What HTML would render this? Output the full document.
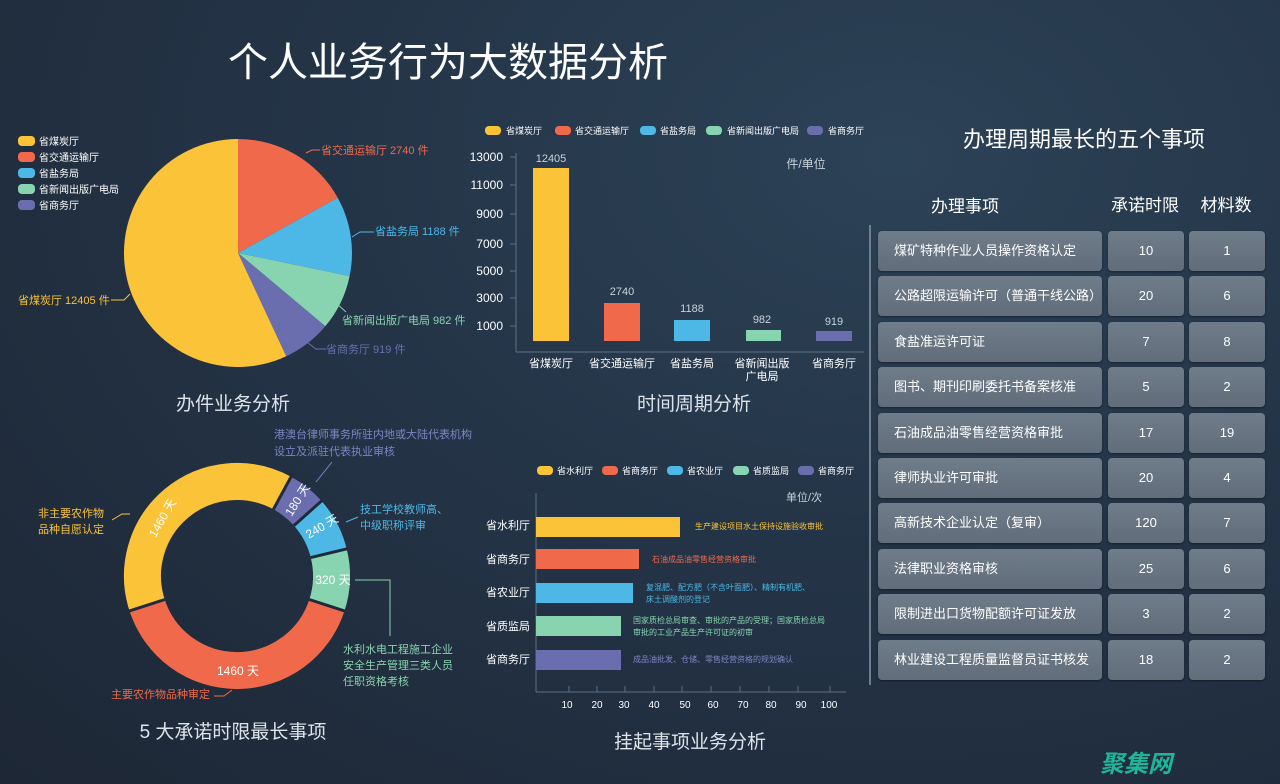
<!DOCTYPE html>
<html><head><meta charset="utf-8"><style>
body{margin:0;width:1280px;height:784px;overflow:hidden;background:radial-gradient(ellipse at 70% 20%,#2c4257 0%,#243447 45%,#1d2735 100%);font-family:"Liberation Sans","Noto Sans CJK SC",sans-serif;}
svg{position:absolute;left:0;top:0}
.c{position:absolute;background:linear-gradient(#6f7c89,#616d7a);border-radius:4px;color:#fff;font-size:13px;box-shadow:0 1px 2px #0006}
</style></head><body>
<svg width="1280" height="784" font-family="Liberation Sans, Noto Sans CJK SC, sans-serif">
<text x="448" y="76" fill="#fff" font-size="40" text-anchor="middle">个人业务行为大数据分析</text>
<g font-size="10" fill="#fff">
<rect x="18" y="136" width="17" height="10" rx="4" fill="#fbc337"/><text x="39" y="145">省煤炭厅</text>
<rect x="18" y="152" width="17" height="10" rx="4" fill="#f0694a"/><text x="39" y="161">省交通运输厅</text>
<rect x="18" y="168" width="17" height="10" rx="4" fill="#4db8e6"/><text x="39" y="177">省盐务局</text>
<rect x="18" y="184" width="17" height="10" rx="4" fill="#88d4b0"/><text x="39" y="193">省新闻出版广电局</text>
<rect x="18" y="200" width="17" height="10" rx="4" fill="#6b6eae"/><text x="39" y="209">省商务厅</text>
</g>
<path d="M238,253 L238,139 A114,114 0 0 1 337.7,197.7Z" fill="#f0694a"/>
<path d="M238,253 L337.7,197.7 A114,114 0 0 1 349.6,276.1Z" fill="#4db8e6"/>
<path d="M238,253 L349.6,276.1 A114,114 0 0 1 325.3,326.3Z" fill="#88d4b0"/>
<path d="M238,253 L325.3,326.3 A114,114 0 0 1 286.2,356.3Z" fill="#6b6eae"/>
<path d="M238,253 L286.2,356.3 A114,114 0 1 1 238,139Z" fill="#fbc337"/>
<g font-size="11" fill="none" stroke-width="1">
<path d="M306,153 L312,150 L320,150" stroke="#f0694a"/><text x="321" y="154" fill="#f0694a" stroke="none">省交通运输厅 2740 件</text>
<path d="M352,237 L360,232 L374,232" stroke="#4db8e6"/><text x="375" y="235" fill="#4db8e6" stroke="none">省盐务局 1188 件</text>
<path d="M336,303 L346,312" stroke="#88d4b0"/><text x="342" y="324" fill="#88d4b0" stroke="none">省新闻出版广电局 982 件</text>
<path d="M308,343 L316,349 L326,349" stroke="#6b6eae"/><text x="326" y="353" fill="#6b6eae" stroke="none">省商务厅 919 件</text>
<path d="M111,300 L124,300 L130,294" stroke="#fbc337"/><text x="18" y="304" fill="#fbc337" stroke="none">省煤炭厅 12405 件</text>
</g>
<text x="233" y="410" fill="#dde3ea" font-size="19" text-anchor="middle">办件业务分析</text>
<g font-size="9" fill="#fff">
<rect x="485" y="126" width="16" height="9" rx="4" fill="#fbc337"/><text x="506" y="134">省煤炭厅</text>
<rect x="555" y="126" width="16" height="9" rx="4" fill="#f0694a"/><text x="575" y="134">省交通运输厅</text>
<rect x="640" y="126" width="16" height="9" rx="4" fill="#4db8e6"/><text x="660" y="134">省盐务局</text>
<rect x="706" y="126" width="16" height="9" rx="4" fill="#88d4b0"/><text x="727" y="134">省新闻出版广电局</text>
<rect x="807" y="126" width="16" height="9" rx="4" fill="#6b6eae"/><text x="828" y="134">省商务厅</text>
</g>
<g font-size="12" fill="#fff" text-anchor="end">
<text x="503" y="161">13000</text><text x="503" y="189">11000</text><text x="503" y="218">9000</text><text x="503" y="248">7000</text><text x="503" y="275">5000</text><text x="503" y="302">3000</text><text x="503" y="330">1000</text>
</g>
<g stroke="#5d7083"><line x1="516" y1="153" x2="516" y2="352"/><line x1="516" y1="352" x2="864" y2="352"/>
<line x1="510" y1="157" x2="516" y2="157"/><line x1="510" y1="185" x2="516" y2="185"/><line x1="510" y1="214" x2="516" y2="214"/><line x1="510" y1="244" x2="516" y2="244"/><line x1="510" y1="271" x2="516" y2="271"/><line x1="510" y1="298" x2="516" y2="298"/><line x1="510" y1="326" x2="516" y2="326"/></g>
<rect x="533" y="168" width="36" height="173" fill="#fbc337"/>
<rect x="604" y="303" width="36" height="38" fill="#f0694a"/>
<rect x="674" y="320" width="36" height="21" fill="#4db8e6"/>
<rect x="746" y="330" width="35" height="11" fill="#88d4b0"/>
<rect x="816" y="331" width="36" height="10" fill="#6b6eae"/>
<g font-size="11" fill="#c8d2dc" text-anchor="middle">
<text x="551" y="162">12405</text><text x="622" y="295">2740</text><text x="692" y="312">1188</text><text x="762" y="323">982</text><text x="834" y="325">919</text>
<text x="806" y="168" font-size="12">件/单位</text>
</g>
<g font-size="11" fill="#fff" text-anchor="middle">
<text x="551" y="367">省煤炭厅</text><text x="622" y="367">省交通运输厅</text><text x="692" y="367">省盐务局</text><text x="762" y="367">省新闻出版</text><text x="762" y="380">广电局</text><text x="834" y="367">省商务厅</text>
</g>
<text x="694" y="410" fill="#dde3ea" font-size="19" text-anchor="middle">时间周期分析</text>
<g fill="none" stroke-width="37">
<path d="M147.1,605.2 A94.5,94.5 0 0 1 282.2,493.0" stroke="#fbc337"/>
<path d="M282.2,493.0 A94.5,94.5 0 0 1 307.8,513.4" stroke="#6b6eae"/>
<path d="M307.8,513.4 A94.5,94.5 0 0 1 328.7,553.1" stroke="#4db8e6"/>
<path d="M328.7,553.1 A94.5,94.5 0 0 1 326.9,605.2" stroke="#88d4b0"/>
<path d="M326.9,605.2 A94.5,94.5 0 0 1 147.1,605.2" stroke="#f0694a"/>
</g>
<g stroke="#1f2b3a" stroke-width="3">
<line x1="273.4" y1="509.3" x2="292.2" y2="474.7"/><line x1="293.9" y1="525.6" x2="322.3" y2="500.2"/><line x1="310.7" y1="557.6" x2="347.5" y2="548.7"/><line x1="309.2" y1="599.5" x2="344.9" y2="611.1"/><line x1="164.8" y1="599.5" x2="129.1" y2="611.1"/>
</g>
<g font-size="12" fill="#fff" text-anchor="middle">
<text transform="translate(166,520) rotate(-60)">1460 天</text>
<text transform="translate(301,502) rotate(-58)">180 天</text>
<text transform="translate(324,530) rotate(-30)">240 天</text>
<text x="333" y="584">320 天</text>
<text x="238" y="675">1460 天</text>
</g>
<g font-size="11" fill="none">
<text x="274" y="438" fill="#7f84c4">港澳台律师事务所驻内地或大陆代表机构</text>
<text x="274" y="455" fill="#7f84c4">设立及派驻代表执业审核</text>
<path d="M332,462 L316,482" stroke="#7f84c4"/>
<text x="360" y="513" fill="#4db8e6">技工学校教师高、</text><text x="360" y="529" fill="#4db8e6">中级职称评审</text>
<path d="M346,522 L358,517" stroke="#4db8e6"/>
<text x="38" y="517" fill="#fbc337">非主要农作物</text><text x="38" y="533" fill="#fbc337">品种自愿认定</text>
<path d="M112,520 L122,514 L130,514" stroke="#fbc337"/>
<path d="M355,580 L390,580 L390,636" stroke="#88d4b0"/>
<text x="343" y="653" fill="#88d4b0">水利水电工程施工企业</text><text x="343" y="669" fill="#88d4b0">安全生产管理三类人员</text><text x="343" y="685" fill="#88d4b0">任职资格考核</text>
<text x="111" y="698" fill="#f0694a">主要农作物品种审定</text>
<path d="M214,696 L224,696 L232,690" stroke="#f0694a"/>
</g>
<text x="233" y="738" fill="#dde3ea" font-size="19" text-anchor="middle">5 大承诺时限最长事项</text>
<g font-size="9" fill="#fff">
<rect x="537" y="466" width="16" height="9" rx="4" fill="#fbc337"/><text x="557" y="474">省水利厅</text>
<rect x="602" y="466" width="16" height="9" rx="4" fill="#f0694a"/><text x="622" y="474">省商务厅</text>
<rect x="667" y="466" width="16" height="9" rx="4" fill="#4db8e6"/><text x="687" y="474">省农业厅</text>
<rect x="733" y="466" width="16" height="9" rx="4" fill="#88d4b0"/><text x="753" y="474">省质监局</text>
<rect x="798" y="466" width="16" height="9" rx="4" fill="#6b6eae"/><text x="818" y="474">省商务厅</text>
</g>
<text x="786" y="501" fill="#c8d2dc" font-size="11">单位/次</text>
<g stroke="#5d7083"><line x1="536" y1="493" x2="536" y2="692"/><line x1="536" y1="692" x2="846" y2="692"/>
<line x1="569" y1="686" x2="569" y2="692"/><line x1="597" y1="686" x2="597" y2="692"/><line x1="625" y1="686" x2="625" y2="692"/><line x1="654" y1="686" x2="654" y2="692"/><line x1="682" y1="686" x2="682" y2="692"/><line x1="711" y1="686" x2="711" y2="692"/><line x1="740" y1="686" x2="740" y2="692"/><line x1="769" y1="686" x2="769" y2="692"/><line x1="798" y1="686" x2="798" y2="692"/><line x1="830" y1="686" x2="830" y2="692"/></g>
<g font-size="10" fill="#fff" text-anchor="middle"><text x="567" y="708">10</text><text x="597" y="708">20</text><text x="624" y="708">30</text><text x="654" y="708">40</text><text x="685" y="708">50</text><text x="713" y="708">60</text><text x="743" y="708">70</text><text x="771" y="708">80</text><text x="801" y="708">90</text><text x="829" y="708">100</text></g>
<g font-size="11" fill="#fff" text-anchor="end"><text x="530" y="529">省水利厅</text><text x="530" y="563">省商务厅</text><text x="530" y="596">省农业厅</text><text x="530" y="630">省质监局</text><text x="530" y="663">省商务厅</text></g>
<rect x="536" y="517" width="144" height="20" fill="#fbc337"/>
<rect x="536" y="549" width="103" height="20" fill="#f0694a"/>
<rect x="536" y="583" width="97" height="20" fill="#4db8e6"/>
<rect x="536" y="616" width="85" height="20" fill="#88d4b0"/>
<rect x="536" y="650" width="85" height="20" fill="#6b6eae"/>
<g font-size="8">
<text x="695" y="529" fill="#fbc337">生产建设项目水土保持设施验收审批</text>
<text x="652" y="562" fill="#f0694a">石油成品油零售经营资格审批</text>
<text x="646" y="590" fill="#4db8e6">复混肥、配方肥（不含叶面肥）、精制有机肥、</text><text x="646" y="602" fill="#4db8e6">床土调酸剂的登记</text>
<text x="633" y="623" fill="#88d4b0">国家质检总局审查、审批的产品的受理；国家质检总局</text><text x="633" y="635" fill="#88d4b0">审批的工业产品生产许可证的初审</text>
<text x="633" y="662" fill="#7f84c4">成品油批发、仓储、零售经营资格的规划确认</text>
</g>
<text x="690" y="748" fill="#dde3ea" font-size="19" text-anchor="middle">挂起事项业务分析</text>
<text x="1084" y="147" fill="#fff" font-size="22" text-anchor="middle">办理周期最长的五个事项</text>
<g font-size="17" fill="#fff" text-anchor="middle"><text x="965" y="212">办理事项</text><text x="1145" y="211">承诺时限</text><text x="1226" y="211">材料数</text></g>
<line x1="870" y1="225" x2="870" y2="685" stroke="#8796a6" stroke-width="1.5"/>
<text x="1100" y="772" fill="#1fb59a" font-size="24" font-weight="bold" font-style="italic">聚集网</text>
</svg>
<div id="t"></div>
<script>
var rows=[["煤矿特种作业人员操作资格认定",10,1],["公路超限运输许可（普通干线公路）",20,6],["食盐准运许可证",7,8],["图书、期刊印刷委托书备案核准",5,2],["石油成品油零售经营资格审批",17,19],["律师执业许可审批",20,4],["高新技术企业认定（复审）",120,7],["法律职业资格审核",25,6],["限制进出口货物配额许可证发放",3,2],["林业建设工程质量监督员证书核发",18,2]];
var h="";rows.forEach(function(r,i){var y=231+i*45.4;
h+='<div class="c" style="left:878px;top:'+y+'px;width:224px;height:40px;line-height:40px;padding-left:16px;box-sizing:border-box">'+r[0]+'</div>';
h+='<div class="c" style="left:1108px;top:'+y+'px;width:76px;height:40px;line-height:40px;text-align:center">'+r[1]+'</div>';
h+='<div class="c" style="left:1189px;top:'+y+'px;width:76px;height:40px;line-height:40px;text-align:center">'+r[2]+'</div>';});
document.getElementById("t").innerHTML=h;
</script>
</body></html>
